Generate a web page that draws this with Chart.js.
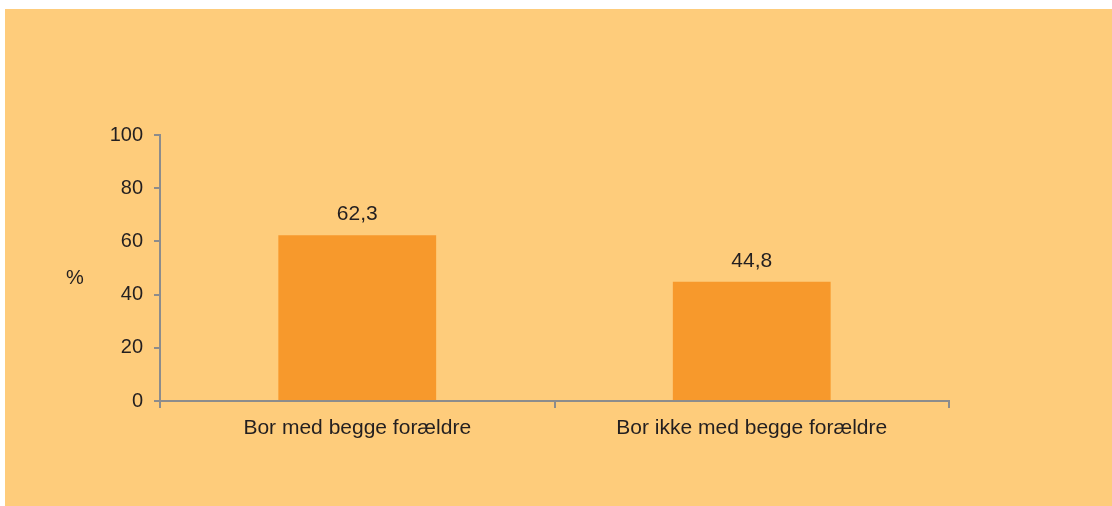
<!DOCTYPE html>
<html>
<head>
<meta charset="utf-8">
<script src="https://cdn.jsdelivr.net/npm/chart.js@4/dist/chart.umd.min.js"></script>
<style>
  html, body { margin: 0; padding: 0; background: #fff; }
  #wrap { width: 1112px; height: 506px; position: relative; }
</style>
</head>
<body>
<div id="wrap"><canvas id="myChart" width="1112" height="506"></canvas></div>
<script>
// chart data
const categories = ["Bor med begge forældre", "Bor ikke med begge forældre"];
const values = [62.3, 44.8];
const yTicks = [0, 20, 40, 60, 80, 100];
const yTitle = "%";

const axisGray = "#8c8c8c";
const textColor = "#231f20";
const fontFamily = "'Liberation Sans', Arial, sans-serif";

// orange backdrop + "%" label
const backdrop = {
  id: "backdrop",
  beforeDraw(chart) {
    const ctx = chart.ctx;
    ctx.save();
    ctx.fillStyle = "#fecc7b";
    ctx.fillRect(5, 9, chart.width - 5, chart.height - 9);
    ctx.restore();
  },
  afterDraw(chart) {
    const ctx = chart.ctx;
    ctx.save();
    ctx.fillStyle = textColor;
    ctx.font = "20px " + fontFamily;
    ctx.textAlign = "center";
    ctx.textBaseline = "middle";
    ctx.fillText(yTitle, 75, 278);
    ctx.restore();
  },
};

// value labels above the bars
const barLabels = {
  id: "barLabels",
  afterDatasetsDraw(chart) {
    const ctx = chart.ctx;
    const meta = chart.getDatasetMeta(0);
    ctx.save();
    ctx.fillStyle = textColor;
    ctx.font = "21px " + fontFamily;
    ctx.textAlign = "center";
    ctx.textBaseline = "alphabetic";
    meta.data.forEach((bar, i) => {
      const txt = values[i].toFixed(1).replace(".", ",");
      ctx.fillText(txt, bar.x, bar.y - 15);
    });
    ctx.restore();
  },
};

const ctx = document.getElementById("myChart").getContext("2d");
const myChart = new Chart(ctx, {
  type: "bar",
  data: {
    labels: categories,
    datasets: [
      {
        data: values,
        backgroundColor: "#f7992c",
        barPercentage: 0.4,
        categoryPercentage: 1,
      },
    ],
  },
  options: {
    responsive: false,
    animation: false,
    layout: { padding: { left: 0, top: 135, right: 163, bottom: 0 } },
    plugins: { legend: { display: false }, tooltip: { enabled: false } },
    scales: {
      x: {
        offset: true,
        grid: {
          offset: true,
          drawOnChartArea: false,
          drawTicks: true,
          tickLength: 7,
          color: axisGray,
          lineWidth: 2,
        },
        border: { color: axisGray, width: 2 },
        ticks: {
          color: textColor,
          font: { size: 21, family: fontFamily },
          padding: 8,
          maxRotation: 0,
        },
        afterFit(scale) {
          scale.height = 105;
        },
      },
      y: {
        min: 0,
        max: 100,
        afterBuildTicks(scale) {
          scale.ticks = yTicks.map((v) => ({ value: v }));
        },
        grid: {
          drawOnChartArea: false,
          drawTicks: true,
          tickLength: 6,
          color: axisGray,
          lineWidth: 2,
        },
        border: { color: axisGray, width: 2 },
        ticks: {
          color: textColor,
          font: { size: 20, family: fontFamily },
          padding: 11,
        },
        afterFit(scale) {
          scale.width = 160;
        },
      },
    },
  },
  plugins: [backdrop, barLabels],
});
</script>
</body>
</html>
